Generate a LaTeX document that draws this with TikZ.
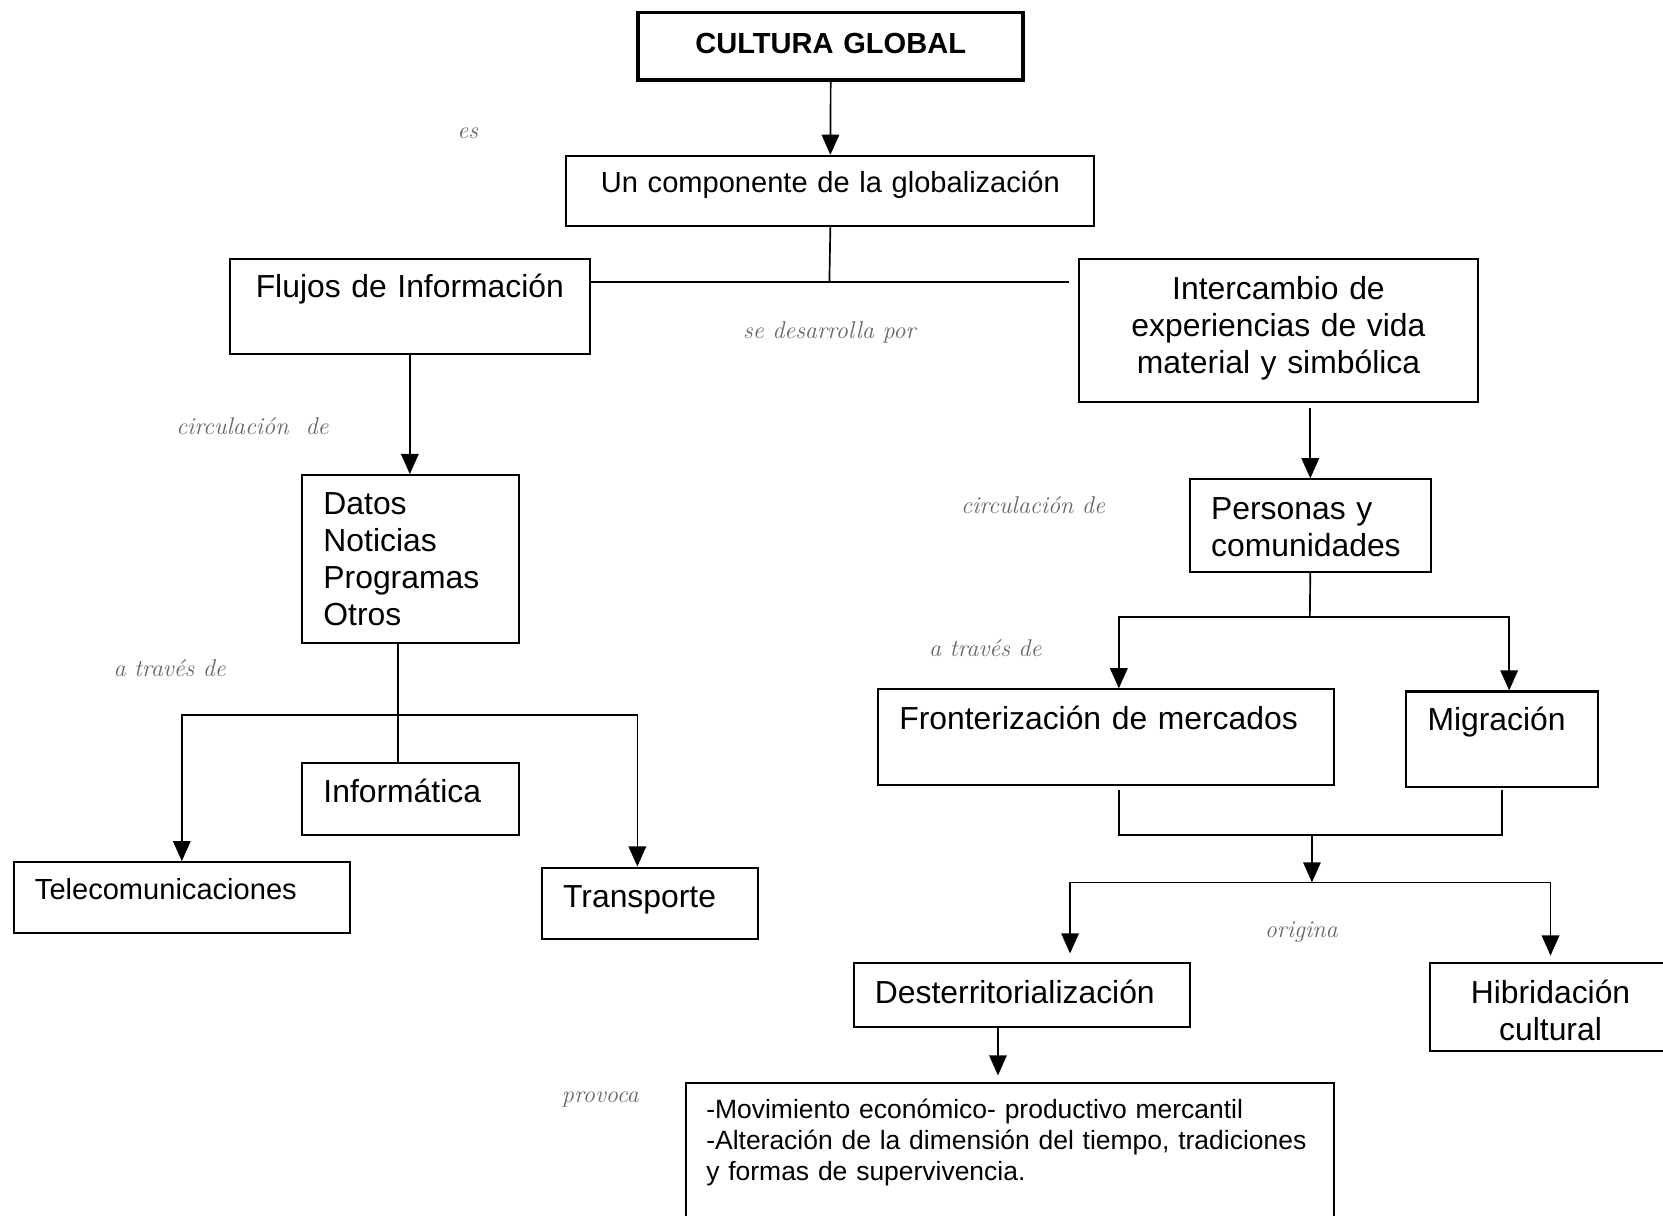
\documentclass[tikz,border=0pt]{standalone}
\usepackage{fontspec}
\newfontfamily\arial{Liberation Sans}
\usetikzlibrary{arrows.meta}
\tikzstyle{caja}=[draw,line width=1.1pt,anchor=north west,inner xsep=0.4cm,inner ysep=0pt,align=left,font=\arial\fontsize{17.1}{19.9}\selectfont]
\tikzstyle{centrado}=[align=center]
\tikzstyle{menor}=[font=\arial\fontsize{15.6}{19.9}\selectfont]
\tikzstyle{rotulo}=[text=black!60,font=\itshape\fontsize{13}{15}\selectfont]
\tikzstyle{linea}=[line width=0.9pt]
\tikzstyle{flecha}=[linea,-{Triangle[length=3.8mm,width=3.3mm]}]

\begin{document}
\begin{tikzpicture}[x=0.02cm,y=-0.02cm]
\path[fill=white,use as bounding box] (0,0) rectangle (1568,1146);

% cajas
\node[caja,centrado,line width=2pt,text width=6.46cm,text height=0.78cm,text depth=0.50cm,font=\arial\bfseries\fontsize{15.6}{19.9}\selectfont] (cultura) at (600,10) {CULTURA GLOBAL};
\node[caja,centrado,menor,text width=9.16cm,text height=0.70cm,text depth=0.62cm] (componente) at (533,146) {Un componente de la globalización};
\node[caja,centrado,text width=5.98cm,text height=0.74cm,text depth=1.06cm] (flujos) at (216,243) {Flujos de Información};
\node[caja,centrado,text width=6.74cm,text height=0.76cm,text depth=1.94cm] (intercambio) at (1016,243) {Intercambio de\\experiencias de vida\\material y simbólica};
\node[caja,text width=3.28cm,text height=0.74cm,text depth=2.42cm] (datos) at (284,447) {Datos\\Noticias\\Programas\\Otros};
\node[caja,text width=3.28cm,text height=0.76cm,text depth=0.60cm] (informatica) at (284,718) {Informática};
\node[caja,menor,text width=5.54cm,text height=0.70cm,text depth=0.64cm] (telecom) at (12,812) {Telecomunicaciones};
\node[caja,text width=3.28cm,text height=0.76cm,text depth=0.58cm] (transporte) at (510,817) {Transporte};
\node[caja,text width=3.74cm,text height=0.76cm,text depth=0.98cm] (personas) at (1121,451) {Personas y\\comunidades};
\node[caja,text width=7.80cm,text height=0.76cm,text depth=1.04cm] (fronteriz) at (827,649) {Fronterización de mercados};
\node[caja,text width=2.82cm,text height=0.74cm,text depth=1.06cm] (migracion) at (1325,651) {Migración};
\node[caja,text width=5.54cm,text height=0.76cm,text depth=0.44cm] (desterr) at (804,907) {Desterritorialización};
\node[caja,centrado,text width=3.76cm,text height=0.76cm,text depth=0.90cm] (hibrid) at (1347,907) {Hibridación\\cultural};
\node[caja,inner xsep=0.38cm,text width=11.46cm,text height=0.68cm,text depth=2.52cm,font=\arial\fontsize{14.2}{16.5}\selectfont] (efectos) at (646,1020) {-Movimiento económico- productivo mercantil\\-Alteración de la dimensión del tiempo, tradiciones\\y formas de supervivencia.};

% rotulos de enlace
\node[rotulo] (es) at (441,126) {es};
\node[rotulo] (desarrolla) at (782,313) {se desarrolla por};
\node[rotulo] (circulaA) at (238,402) {circulación\ \ de};
\node[rotulo] (travesA) at (160,630) {a través de};
\node[rotulo] (circulaB) at (974,476) {circulación de};
\node[rotulo] (travesB) at (929,611) {a través de};
\node[rotulo] (origina) at (1227,879) {origina};
\node[rotulo] (provoca) at (566,1037) {provoca};

% puntos de union
\coordinate (ramal) at (782,266);
\coordinate (reparto) at (375,674);
\coordinate (bifurca) at (1235,582);
\coordinate (union) at (1237,787);
\coordinate (abanico) at (1237,832);

% conectores
\draw[flecha] (cultura.south) -- (componente.north);
\draw[linea] (componente.south) -- (ramal);
\draw[linea] (flujos.east |- ramal) -- ([xshift=-0.16cm]intercambio.west |- ramal);
\draw[flecha] (flujos.south) -- (flujos.south |- datos.north);
\draw[flecha] ([yshift=-0.1cm]intercambio.south -| personas.north) -- (personas.north);

\draw[linea] (datos.south -| reparto) -- (informatica.north -| reparto);
\draw[flecha] (reparto) -| (telecom.north);
\draw[flecha] (reparto) -| ([xshift=-0.24cm]transporte.north);

\draw[linea] (personas.south) -- (bifurca);
\draw[flecha] (bifurca) -| ([xshift=0.24cm]fronteriz.north);
\draw[flecha] (bifurca) -| ([xshift=0.13cm]migracion.north);

\draw[linea] ([xshift=0.24cm,yshift=-0.08cm]fronteriz.south) |- (union) -| ([yshift=-0.04cm]migracion.south);
\draw[flecha] (union) -- (abanico);
\draw[flecha] (abanico) -| ([xshift=0.91cm,yshift=0.16cm]desterr.north);
\draw[flecha] (abanico) -| ([yshift=0.12cm]hibrid.north);
\draw[flecha] ([xshift=-0.45cm]desterr.south) -- ([xshift=-0.45cm,yshift=0.12cm]efectos.north -| desterr.south);
\end{tikzpicture}
\end{document}
